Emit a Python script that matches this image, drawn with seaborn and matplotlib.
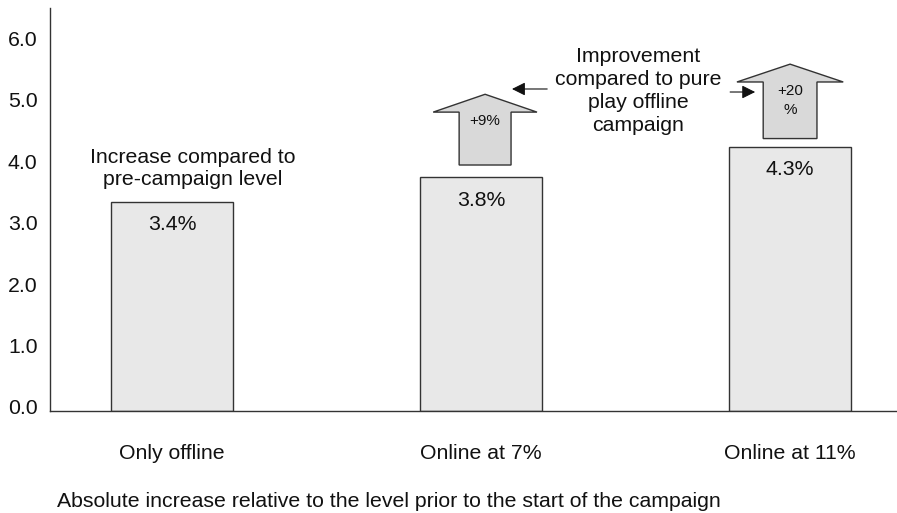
import matplotlib
matplotlib.use("Agg")
import matplotlib.pyplot as plt
import matplotlib.transforms as mtransforms
from matplotlib.patches import Polygon
import seaborn as sns
import pandas as pd

# Chart data
categories = ["Only offline", "Online at 7%", "Online at 11%"]
increase = [3.4, 3.8, 4.3]
value_labels = ["3.4%", "3.8%", "4.3%"]
improvement_labels = [None, "+9%", "+20\n%"]
y_ticks = [0.0, 1.0, 2.0, 3.0, 4.0, 5.0, 6.0]

sns.set_theme(style="white")
plt.rcParams["font.family"] = ["Liberation Sans", "DejaVu Sans"]

W, H = 897, 513
FS = 15.3
fig = plt.figure(figsize=(W / 100, H / 100), dpi=100)
ax = fig.add_axes([50 / W, 1 - 411 / H, 1 - 50 / W, (411 - 8) / H])

df = pd.DataFrame({"category": categories, "increase": increase})
sns.barplot(data=df, x="category", y="increase", ax=ax, width=0.395,
            color="#e8e8e8", edgecolor="#333333", linewidth=1.0, saturation=1)

ax.set_xlim(-0.395, 2.346)
ax.set_ylim(0, 6.553)
ax.set_yticks(y_ticks)
ax.set_yticklabels([f"{t:.1f}" for t in y_ticks], fontsize=FS, color="#111111")
ax.tick_params(axis="y", length=0, pad=9)
ax.tick_params(axis="x", length=0, pad=24, labelsize=FS, labelcolor="#111111")
# nudge the y tick labels up slightly
shift = mtransforms.ScaledTranslation(0, 4 / 100, fig.dpi_scale_trans)
for lab in ax.get_yticklabels():
    lab.set_transform(lab.get_transform() + shift)
ax.set_xlabel("")
ax.set_ylabel("")
for side in ["top", "right"]:
    ax.spines[side].set_visible(False)
for side in ["left", "bottom"]:
    ax.spines[side].set_color("#333333")
    ax.spines[side].set_linewidth(1.0)

# Value labels inside bars
for i, (v, lab) in enumerate(zip(increase, value_labels)):
    ax.text(i, v - 0.374, lab, ha="center", va="center", fontsize=FS, color="#111111")

# Block arrows above the online bars showing the improvement
def block_arrow(xc, base, shaft_hw, head_hw, head_base, tip, label, text_drop):
    pts = [(xc - shaft_hw, base), (xc - shaft_hw, head_base), (xc - head_hw, head_base),
           (xc, tip), (xc + head_hw, head_base), (xc + shaft_hw, head_base),
           (xc + shaft_hw, base)]
    ax.add_patch(Polygon(pts, closed=True, facecolor="#d9d9d9",
                         edgecolor="#333333", linewidth=1.0, zorder=3))
    ax.text(xc, head_base - text_drop, label, ha="center", va="center",
            fontsize=11, color="#111111", zorder=4, linespacing=1.5)

block_arrow(1.013, 4.0, 0.084, 0.168, 4.86, 5.15, improvement_labels[1], 0.15)
block_arrow(2.0, 4.43, 0.087, 0.172, 5.35, 5.64, improvement_labels[2], 0.30)

# Annotation text
ax.text(0.066, 3.943, "Increase compared to\npre-campaign level", ha="center", va="center",
        fontsize=FS, color="#111111", linespacing=1.22)
ax.text(1.508, 5.203, "Improvement\ncompared to pure\nplay offline\ncampaign", ha="center",
        va="center", fontsize=FS, color="#111111", linespacing=1.25)

# Small pointer arrows linking the note to the block arrows
ax.annotate("", xy=(1.100, 5.236), xytext=(1.214, 5.236),
            arrowprops=dict(arrowstyle="-|>", color="#111111", lw=0.8,
                            mutation_scale=20, shrinkA=0, shrinkB=0))
ax.annotate("", xy=(1.887, 5.187), xytext=(1.806, 5.187),
            arrowprops=dict(arrowstyle="-|>", color="#111111", lw=0.8,
                            mutation_scale=20, shrinkA=0, shrinkB=0))

fig.text(57 / W, 1 - 507 / H, "Absolute increase relative to the level prior to the start of the campaign",
         ha="left", va="baseline", fontsize=FS, color="#111111")

fig.savefig("out.png", dpi=100)
